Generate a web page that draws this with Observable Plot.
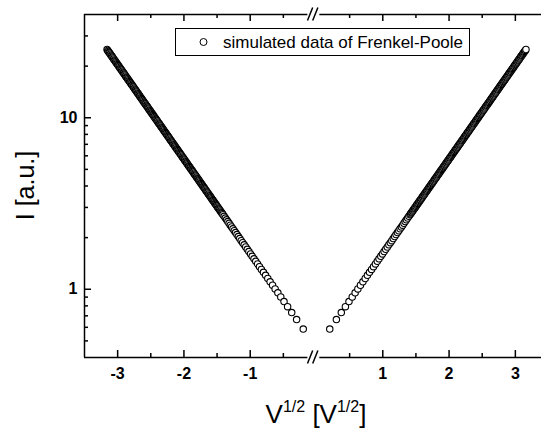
<!DOCTYPE html>
<html>
<head>
<meta charset="utf-8">
<script src="https://cdn.jsdelivr.net/npm/d3@7"></script>
<script src="https://cdn.jsdelivr.net/npm/@observablehq/plot@0.6"></script>
<style>
  body { margin: 0; background: #fff; overflow: hidden; }
</style>
</head>
<body>
<div id="chart"></div>
<script>
// |V|^(1/2) sample positions (both polarities share them) and the simulated current
const rootV = [
  0.200, 0.300, 0.374, 0.436, 0.490, 0.539, 0.583, 0.624, 0.663, 0.700,
  0.735, 0.768, 0.800, 0.831, 0.860, 0.889, 0.917, 0.943, 0.970, 0.995,
  1.020, 1.044, 1.068, 1.091, 1.114, 1.136, 1.158, 1.179, 1.200, 1.221,
  1.241, 1.261, 1.281, 1.300, 1.319, 1.338, 1.356, 1.375, 1.393,
  1.41, 1.42, 1.43, 1.44, 1.45, 1.46, 1.47, 1.48, 1.49,
  1.50, 1.51, 1.52, 1.53, 1.54, 1.55, 1.56, 1.57, 1.58, 1.59,
  1.60, 1.61, 1.62, 1.63, 1.64, 1.65, 1.66, 1.67, 1.68, 1.69,
  1.70, 1.71, 1.72, 1.73, 1.74, 1.75, 1.76, 1.77, 1.78, 1.79,
  1.80, 1.81, 1.82, 1.83, 1.84, 1.85, 1.86, 1.87, 1.88, 1.89,
  1.90, 1.91, 1.92, 1.93, 1.94, 1.95, 1.96, 1.97, 1.98, 1.99,
  2.00, 2.01, 2.02, 2.03, 2.04, 2.05, 2.06, 2.07, 2.08, 2.09,
  2.10, 2.11, 2.12, 2.13, 2.14, 2.15, 2.16, 2.17, 2.18, 2.19,
  2.20, 2.21, 2.22, 2.23, 2.24, 2.25, 2.26, 2.27, 2.28, 2.29,
  2.30, 2.31, 2.32, 2.33, 2.34, 2.35, 2.36, 2.37, 2.38, 2.39,
  2.40, 2.41, 2.42, 2.43, 2.44, 2.45, 2.46, 2.47, 2.48, 2.49,
  2.50, 2.51, 2.52, 2.53, 2.54, 2.55, 2.56, 2.57, 2.58, 2.59,
  2.60, 2.61, 2.62, 2.63, 2.64, 2.65, 2.66, 2.67, 2.68, 2.69,
  2.70, 2.71, 2.72, 2.73, 2.74, 2.75, 2.76, 2.77, 2.78, 2.79,
  2.80, 2.81, 2.82, 2.83, 2.84, 2.85, 2.86, 2.87, 2.88, 2.89,
  2.90, 2.91, 2.92, 2.93, 2.94, 2.95, 2.96, 2.97, 2.98, 2.99,
  3.00, 3.01, 3.02, 3.03, 3.04, 3.05, 3.06, 3.07, 3.08, 3.09,
  3.10, 3.11, 3.12, 3.13, 3.14, 3.15, 3.16
];
const current = [
  0.586, 0.666, 0.731, 0.791, 0.847, 0.901, 0.953, 1.004, 1.055, 1.105,
  1.155, 1.205, 1.255, 1.305, 1.354, 1.405, 1.455, 1.504, 1.557, 1.607,
  1.659, 1.710, 1.763, 1.815, 1.869, 1.921, 1.976, 2.029, 2.084, 2.140,
  2.194, 2.251, 2.309, 2.365, 2.423, 2.482, 2.539, 2.601, 2.661,
  2.720, 2.755, 2.789, 2.825, 2.861, 2.898, 2.934, 2.971, 3.010,
  3.048, 3.087, 3.126, 3.166, 3.206, 3.248, 3.289, 3.331, 3.374, 3.417,
  3.461, 3.504, 3.549, 3.594, 3.640, 3.687, 3.734, 3.781, 3.829, 3.878,
  3.927, 3.978, 4.029, 4.080, 4.132, 4.185, 4.238, 4.292, 4.347, 4.403,
  4.459, 4.516, 4.574, 4.632, 4.691, 4.750, 4.811, 4.873, 4.935, 4.998,
  5.062, 5.126, 5.191, 5.258, 5.325, 5.393, 5.462, 5.531, 5.602, 5.673,
  5.745, 5.819, 5.893, 5.968, 6.044, 6.121, 6.199, 6.279, 6.359, 6.440,
  6.522, 6.605, 6.689, 6.775, 6.861, 6.949, 7.038, 7.127, 7.218, 7.310,
  7.403, 7.498, 7.594, 7.691, 7.789, 7.888, 7.989, 8.091, 8.194, 8.299,
  8.405, 8.512, 8.621, 8.730, 8.841, 8.954, 9.068, 9.184, 9.301, 9.420,
  9.540, 9.662, 9.785, 9.910, 10.04, 10.16, 10.29, 10.43, 10.56, 10.69,
  10.83, 10.97, 11.11, 11.25, 11.39, 11.54, 11.69, 11.84, 11.99, 12.14,
  12.29, 12.45, 12.61, 12.77, 12.93, 13.10, 13.27, 13.43, 13.61, 13.78,
  13.96, 14.13, 14.31, 14.50, 14.68, 14.87, 15.06, 15.25, 15.45, 15.64,
  15.84, 16.04, 16.25, 16.46, 16.67, 16.88, 17.09, 17.31, 17.53, 17.76,
  17.98, 18.21, 18.44, 18.68, 18.92, 19.16, 19.40, 19.65, 19.90, 20.16,
  20.41, 20.67, 20.94, 21.21, 21.48, 21.75, 22.03, 22.31, 22.59, 22.88,
  23.17, 23.47, 23.77, 24.07, 24.38, 24.69, 25.01
];

const xMajorTicks = [-3, -2, -1, 1, 2, 3];
const xMinorTicks = [-2.5, -1.5, -0.5, 0.5, 1.5, 2.5];
const yMajorTicks = [1, 10];
const yMinorTicks = [0.5, 0.6, 0.7, 0.8, 0.9, 2, 3, 4, 5, 6, 7, 8, 9, 20, 30];
const xDomain = [-3.5, 3.5];
const yDomain = [0.4, 40];
const xBreak = -0.05;                    // the broken axis gap sits here
const axisPieces = [{x1: -3.5, x2: -0.13}, {x1: 0.05, x2: 3.5}];
const legendLabel = "simulated data of Frenkel-Poole";
const yTitle = "I [a.u.]";

// negative branch from the outer end inward, then positive branch outward
const points = [];
for (let i = rootV.length - 1; i >= 0; i--) points.push({x: -rootV[i], y: current[i]});
for (let i = 0; i < rootV.length; i++) points.push({x: rootV[i], y: current[i]});

const font = "'Liberation Sans', Arial, Helvetica, sans-serif";
const W = 1.5, MAJ = 7, MIN = 4;

const chart = Plot.plot({
  width: 541,
  height: 430,
  marginLeft: 84, marginRight: 0, marginTop: 14, marginBottom: 73,
  style: {fontFamily: font, background: "#fff", color: "#000"},
  x: {domain: xDomain, range: [84, 548], axis: null},
  y: {type: "log", domain: yDomain, range: [357, 14], axis: null},
  marks: [
    // frame: left edge plus broken bottom and top edges
    Plot.ruleX([xDomain[0]], {y1: yDomain[0], y2: yDomain[1], strokeWidth: W}),
    Plot.ruleY(axisPieces, {x1: "x1", x2: "x2", y: () => yDomain[0], strokeWidth: W}),
    Plot.ruleY(axisPieces, {x1: "x1", x2: "x2", y: () => yDomain[1], strokeWidth: W}),
    // inward ticks
    Plot.ruleX(xMajorTicks, {x: d => d, y1: yDomain[0], y2: yDomain[0], insetTop: -MAJ, strokeWidth: W}),
    Plot.ruleX(xMinorTicks, {x: d => d, y1: yDomain[0], y2: yDomain[0], insetTop: -MIN, strokeWidth: W}),
    Plot.ruleX(xMajorTicks, {x: d => d, y1: yDomain[1], y2: yDomain[1], insetBottom: -MAJ, strokeWidth: W}),
    Plot.ruleX(xMinorTicks, {x: d => d, y1: yDomain[1], y2: yDomain[1], insetBottom: -MIN, strokeWidth: W}),
    Plot.ruleY(yMajorTicks, {y: d => d, x1: xDomain[0], x2: xDomain[0], insetRight: -MAJ, strokeWidth: W}),
    Plot.ruleY(yMinorTicks, {y: d => d, x1: xDomain[0], x2: xDomain[0], insetRight: -MIN, strokeWidth: W}),
    // tick labels
    Plot.text(xMajorTicks, {x: d => d, y: () => yDomain[0], dy: 16, text: d => String(d),
      fontSize: 16, fontWeight: "bold", fill: "#000"}),
    Plot.text(yMajorTicks, {y: d => d, x: () => xDomain[0], dx: -7, text: d => String(d),
      textAnchor: "end", fontSize: 16, fontWeight: "bold", fill: "#000"}),
    // data
    Plot.dot(points, {x: "x", y: "y", r: 3.2, fill: "#fff", stroke: "#000", strokeWidth: 1.1})
  ]
});

document.getElementById("chart").appendChild(chart);

const sx = chart.scale("x"), sy = chart.scale("y");
const px = v => sx.apply(v), py = v => sy.apply(v);
const svg = d3.select(chart);

// break marks on bottom and top edges
const bx = px(xBreak);
for (const yv of yDomain) {
  const yy = py(yv);
  for (const off of [-2.6, 2.6]) {
    svg.append("line")
      .attr("x1", bx + off - 2.6).attr("y1", yy + 6.5)
      .attr("x2", bx + off + 2.6).attr("y2", yy - 6.5)
      .attr("stroke", "#000").attr("stroke-width", 1.5);
  }
}

// axis titles
svg.append("text")
  .attr("transform", `translate(33.5,${(py(yDomain[0]) + py(yDomain[1])) / 2}) rotate(-90)`)
  .attr("text-anchor", "middle")
  .attr("font-family", font).attr("font-size", 25).attr("fill", "#000")
  .text(yTitle);

const xt = svg.append("text")
  .attr("x", px(0)).attr("y", 423)
  .attr("text-anchor", "middle")
  .attr("font-family", font).attr("font-size", 26).attr("fill", "#000");
xt.append("tspan").text("V");
xt.append("tspan").attr("font-size", 16).attr("dy", -11).text("1/2");
xt.append("tspan").attr("dy", 11).text(" [V");
xt.append("tspan").attr("font-size", 16).attr("dy", -11).text("1/2");
xt.append("tspan").attr("dy", 11).text("]");

// legend box
const lg = svg.append("g").attr("text-anchor", "start");
lg.append("rect").attr("x", 175.5).attr("y", 28.5).attr("width", 294).attr("height", 27)
  .attr("fill", "#fff").attr("stroke", "#000").attr("stroke-width", 1);
lg.append("circle").attr("cx", 203.5).attr("cy", 42).attr("r", 3.5)
  .attr("fill", "#fff").attr("stroke", "#000").attr("stroke-width", 1);
lg.append("text").attr("x", 223).attr("y", 47.5)
  .attr("text-anchor", "start")
  .attr("font-family", font).attr("font-size", 17).attr("fill", "#000")
  .text(legendLabel);
</script>
</body>
</html>
